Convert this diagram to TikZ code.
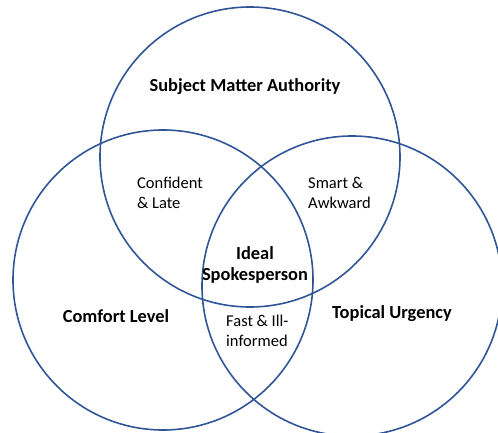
\documentclass[tikz,border=0pt]{standalone}
\usepackage{fontspec}
\setmainfont{Carlito}
\definecolor{ringblue}{RGB}{47,85,151}
\begin{document}
\begin{tikzpicture}[x=1pt,y=-1pt,
  ring/.style={draw=ringblue,line width=1.6pt},
  setlabel/.style={font=\fontsize{18.4}{22}\selectfont\bfseries,align=center,inner sep=0pt},
  overlap/.style={font=\fontsize{16.5}{20.5}\selectfont,align=left,inner sep=0pt,anchor=west}]
  \useasboundingbox (0,0) rectangle (498,433);
  \clip (0,0) rectangle (498,433);
  % the three sets
  \node[ring,circle,minimum size=300pt,inner sep=0pt] (top) at (250,157) {};
  \node[ring,circle,minimum size=300pt,inner sep=0pt] (left) at (163,280) {};
  \node[ring,circle,minimum size=300pt,inner sep=0pt] (right) at (352,286) {};
  % set names
  \node[setlabel] (sma) at (245,87) {Subject Matter Authority};
  \node[setlabel] (cl) at (116,316) {Comfort Level};
  \node[setlabel] (tu) at (392,314) {Topical Urgency};
  \node[setlabel] (ideal) at (255,265) {Ideal\\[-1pt]Spokesperson};
  % pairwise overlaps
  \node[overlap] (cfl) at (137,193) {Confident\\\& Late};
  \node[overlap] (sa) at (308,193) {Smart \&\\Awkward};
  \node[overlap] (fi) at (226,331) {Fast \& Ill-\\informed};
\end{tikzpicture}
\end{document}
